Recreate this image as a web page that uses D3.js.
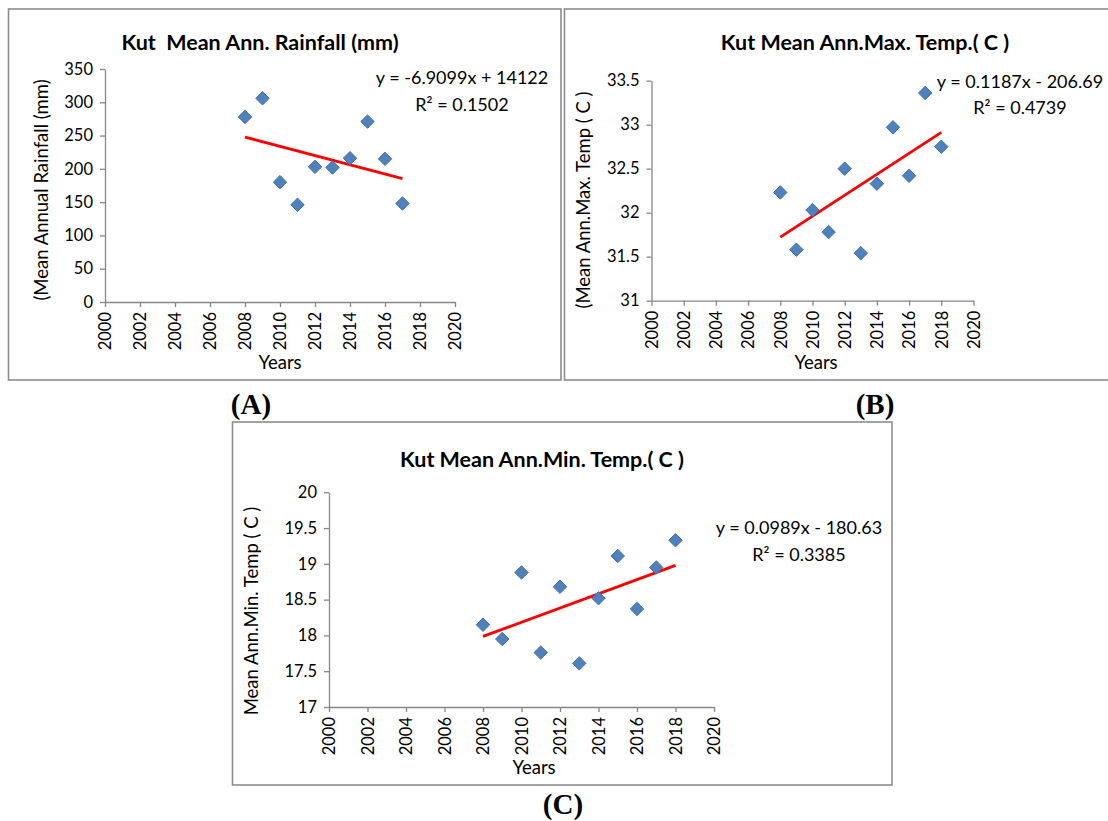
<!DOCTYPE html>
<html>
<head>
<meta charset="utf-8">
<script src="https://cdn.jsdelivr.net/npm/d3@7"></script>
<style>
  html, body { margin: 0; padding: 0; background: #fff; }
  svg { display: block; }
  text { font-family: Lato, "Open Sans", sans-serif; fill: #000; white-space: pre; }
</style>
</head>
<body>
<svg id="chart" width="1108" height="821"></svg>
<script>
// ---------------- data ----------------
const yearsA = [2008, 2009, 2010, 2011, 2012, 2013, 2014, 2015, 2016, 2017];
const rainfall = [278, 306, 180, 146, 203, 202, 216, 271, 215, 148];

const yearsB = [2008, 2009, 2010, 2011, 2012, 2013, 2014, 2015, 2016, 2017, 2018];
const maxTemp = [32.23, 31.58, 32.03, 31.78, 32.50, 31.54, 32.33, 32.97, 32.42, 33.36, 32.75];

const yearsC = [2008, 2009, 2010, 2011, 2012, 2013, 2014, 2015, 2016, 2017, 2018];
const minTemp = [18.15, 17.95, 18.88, 17.76, 18.68, 17.61, 18.52, 19.11, 18.37, 18.95, 19.33];

const xTicks = [2000, 2002, 2004, 2006, 2008, 2010, 2012, 2014, 2016, 2018, 2020];
const yTicksA = [0, 50, 100, 150, 200, 250, 300, 350];
const yTicksB = [31, 31.5, 32, 32.5, 33, 33.5];
const yTicksC = [17, 17.5, 18, 18.5, 19, 19.5, 20];

const titles = ["Kut  Mean Ann. Rainfall (mm)", "Kut Mean Ann.Max. Temp.( C )", "Kut Mean Ann.Min. Temp.( C )"];
const yTitles = ["(Mean Annual Rainfall (mm)", "(Mean Ann.Max. Temp ( C )", "Mean Ann.Min. Temp ( C )"];
const xTitle = "Years";
const equations = ["y = -6.9099x + 14122", "y = 0.1187x - 206.69", "y = 0.0989x - 180.63"];
const rSquared = ["R\u00B2 = 0.1502", "R\u00B2 = 0.4739", "R\u00B2 = 0.3385"];
const panelLabels = ["(A)", "(B)", "(C)"];

// ---------------- layout ----------------
const svg = d3.select("#chart");

const panels = [
  { xs: yearsA, ys: rainfall, yTicks: yTicksA, yDomain: [0, 350],
    box: [8.5, 9, 561, 380], plot: { x0: 105, x1: 455, y0: 302, y1: 69 },
    title: [260, 50], yTitle: [42, 190], xTitle: [280, 369], eq: [462, 84, 111], label: [251, 414] },
  { xs: yearsB, ys: maxTemp, yTicks: yTicksB, yDomain: [31, 33.5],
    box: [564.5, 9, 1112, 380], plot: { x0: 651.5, x1: 973.5, y0: 300.7, y1: 80.7 },
    title: [865, 50], yTitle: [584, 200], xTitle: [816, 369], eq: [1020, 88, 114], label: [875, 414] },
  { xs: yearsC, ys: minTemp, yTicks: yTicksC, yDomain: [17, 20],
    box: [232.5, 422, 892, 785], plot: { x0: 329, x1: 714, y0: 707, y1: 492.3 },
    title: [542, 467], yTitle: [252, 611], xTitle: [534, 774], eq: [799, 534, 561], label: [563, 814] }
];

const axisColor = "#868686";

function linreg(xs, ys) {
  const mx = d3.mean(xs), my = d3.mean(ys);
  let num = 0, den = 0;
  xs.forEach((x, i) => { num += (x - mx) * (ys[i] - my); den += (x - mx) * (x - mx); });
  const b = num / den;
  return { b, a: my - b * mx };
}

panels.forEach((p, i) => {
  const g = svg.append("g");
  // panel frame
  g.append("rect")
    .attr("x", p.box[0]).attr("y", p.box[1])
    .attr("width", p.box[2] - p.box[0]).attr("height", p.box[3] - p.box[1])
    .attr("fill", "none").attr("stroke", "#8c8c8c").attr("stroke-width", 1.6);

  const x = d3.scaleLinear().domain([2000, 2020]).range([p.plot.x0, p.plot.x1]);
  const y = d3.scaleLinear().domain(p.yDomain).range([p.plot.y0, p.plot.y1]);

  // x axis
  const xAxis = g.append("g")
    .attr("transform", `translate(0,${p.plot.y0})`)
    .call(d3.axisBottom(x).tickValues(xTicks).tickFormat(d3.format("d")).tickSize(5).tickSizeOuter(0));
  xAxis.select(".domain").attr("stroke", axisColor).attr("stroke-width", 1.3);
  xAxis.selectAll(".tick line").attr("stroke", axisColor).attr("stroke-width", 1.3);
  xAxis.selectAll(".tick text")
    .attr("font-size", 16.5).attr("font-family", "Lato")
    .attr("fill", "#000")
    .attr("transform", "rotate(-90)")
    .attr("text-anchor", "end")
    .attr("x", -10).attr("y", 0).attr("dy", "0.35em");

  // y axis
  const yAxis = g.append("g")
    .attr("transform", `translate(${p.plot.x0},0)`)
    .call(d3.axisLeft(y).tickValues(p.yTicks).tickFormat(v => String(v)).tickSize(5).tickSizeOuter(0));
  yAxis.select(".domain").attr("stroke", axisColor).attr("stroke-width", 1.3);
  yAxis.selectAll(".tick line").attr("stroke", axisColor).attr("stroke-width", 1.3);
  yAxis.selectAll(".tick text")
    .attr("font-size", 16.5).attr("font-family", "Lato").attr("fill", "#000")
    .attr("x", -12);

  // trend line (least squares)
  const r = linreg(p.xs, p.ys);
  const xMin = d3.min(p.xs), xMax = d3.max(p.xs);
  const line = d3.line().x(d => x(d[0])).y(d => y(d[1]));
  g.append("path")
    .datum([[xMin, r.a + r.b * xMin], [xMax, r.a + r.b * xMax]])
    .attr("d", line)
    .attr("stroke", "#ff0000").attr("stroke-width", 2.8).attr("fill", "none");

  // points (diamonds)
  const sym = d3.symbol().type(d3.symbolDiamond2).size(115);
  g.selectAll("path.pt").data(p.xs.map((xv, k) => [xv, p.ys[k]])).join("path")
    .attr("class", "pt")
    .attr("d", sym)
    .attr("transform", d => `translate(${x(d[0])},${y(d[1])})`)
    .attr("fill", "#4F81BD").attr("stroke", "#3F6FA8").attr("stroke-width", 1);

  // titles
  g.append("text").attr("x", p.title[0]).attr("y", p.title[1])
    .attr("text-anchor", "middle").attr("font-weight", "bold").attr("font-size", 21.5)
    .text(titles[i]);
  g.append("text")
    .attr("transform", `translate(${p.yTitle[0]},${p.yTitle[1]}) rotate(-90)`)
    .attr("text-anchor", "middle").attr("dy", "0.35em").attr("font-size", 18.5)
    .text(yTitles[i]);
  g.append("text").attr("x", p.xTitle[0]).attr("y", p.xTitle[1])
    .attr("text-anchor", "middle").attr("font-size", 18.5)
    .text(xTitle);

  // equation
  g.append("text").attr("x", p.eq[0]).attr("y", p.eq[1])
    .attr("text-anchor", "middle").attr("font-size", 18)
    .text(equations[i]);
  g.append("text").attr("x", p.eq[0]).attr("y", p.eq[2])
    .attr("text-anchor", "middle").attr("font-size", 18)
    .text(rSquared[i]);

  // panel label
  svg.append("text").attr("x", p.label[0]).attr("y", p.label[1])
    .attr("text-anchor", "middle")
    .attr("font-weight", "bold").attr("font-size", 29)
    .style("font-family", "'Liberation Serif', 'Times New Roman', serif")
    .text(panelLabels[i]);
});
</script>
</body>
</html>
